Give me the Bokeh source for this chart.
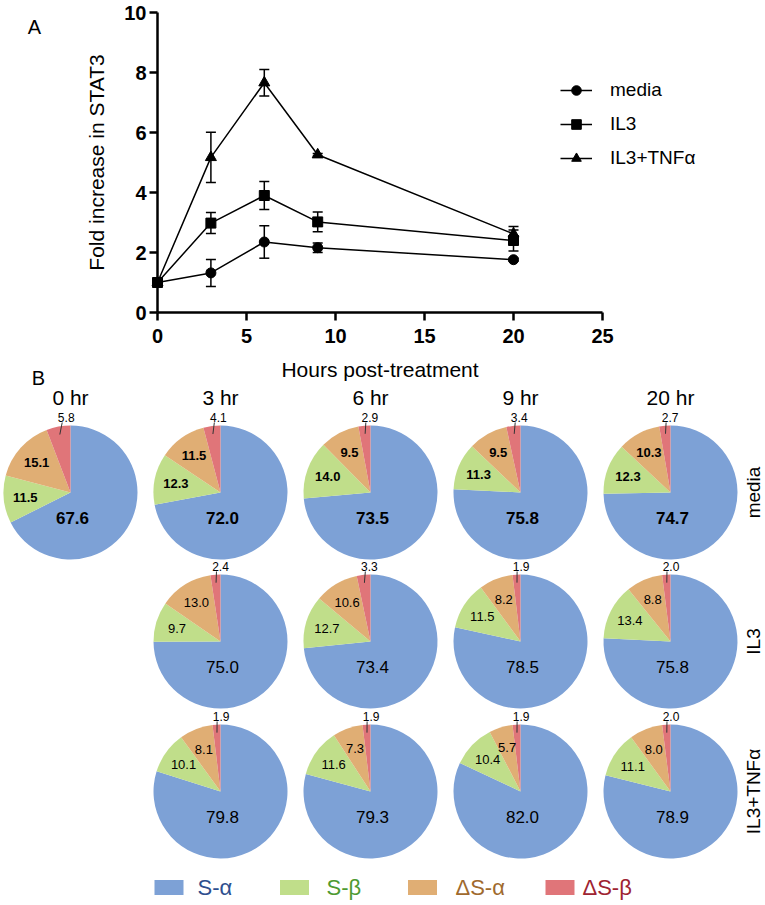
import numpy as np
from bokeh.plotting import figure
from bokeh.models import (Range1d, Legend, LegendItem, Whisker, ColumnDataSource,
                          TeeHead, FixedTicker, LinearAxis)
from bokeh.embed import file_html
from bokeh.resources import INLINE
from bokeh.core.properties import value

# ---------------- data: panel A ----------------
hours = [0, 3, 6, 9, 20]
media_mean = [1.0, 1.32, 2.35, 2.16, 1.76]
media_err = [0.0, 0.45, 0.54, 0.16, 0.05]
il3_mean = [1.0, 2.98, 3.90, 3.02, 2.40]
il3_err = [0.0, 0.35, 0.47, 0.33, 0.35]
tnf_mean = [1.0, 5.17, 7.66, 5.26, 2.62]
tnf_err = [0.0, 0.84, 0.44, 0.04, 0.25]
x_ticks = [0, 5, 10, 15, 20, 25]
y_ticks = [0, 2, 4, 6, 8, 10]
series_names = ["media", "IL3", "IL3+TNFα"]

# ---------------- data: panel B ----------------
pie_times = ["0 hr", "3 hr", "6 hr", "9 hr", "20 hr"]
pie_rows = ["media", "IL3", "IL3+TNFα"]
isoforms = ["S-α", "S-β", "ΔS-α", "ΔS-β"]
media_pct = [[67.6, 11.5, 15.1, 5.8], [72.0, 12.3, 11.5, 4.1], [73.5, 14.0, 9.5, 2.9],
             [75.8, 11.3, 9.5, 3.4], [74.7, 12.3, 10.3, 2.7]]
il3_pct = [None, [75.0, 9.7, 13.0, 2.4], [73.4, 12.7, 10.6, 3.3],
           [78.5, 11.5, 8.2, 1.9], [75.8, 13.4, 8.8, 2.0]]
tnf_pct = [None, [79.8, 10.1, 8.1, 1.9], [79.3, 11.6, 7.3, 1.9],
           [82.0, 10.4, 5.7, 1.9], [78.9, 11.1, 8.0, 2.0]]

slice_colors = ["#7DA1D6", "#C0DE8A", "#E0AE74", "#E07579"]
legend_text_colors = ["#2E4F8E", "#4E9A31", "#A06A2E", "#9E2331"]

FONT = "Liberation Sans"
W, H = 765, 900


def fx(px):  # page x -> canvas units
    return px


def fy(py):  # page y -> canvas units (y up)
    return H - py


# placement of panel A's plotting area on the canvas
AX_L, AX_R = fx(157), fx(602)     # hours 0 .. 25
AX_B, AX_T = fy(312), fy(12)      # fold 0 .. 10
hx = (AX_R - AX_L) / 25.0
hy = (AX_T - AX_B) / 10.0

p = figure(width=W, height=H, x_range=Range1d(0, W), y_range=Range1d(0, H),
           output_backend="svg", toolbar_location=None, min_border=0,
           x_axis_type=None, y_axis_type=None)
p.grid.visible = False
p.outline_line_color = None
p.extra_x_ranges = {"hours": Range1d(-AX_L / hx, (W - AX_L) / hx)}
p.extra_y_ranges = {"fold": Range1d(-AX_B / hy, (H - AX_B) / hy)}

# ================= Panel A =================
xaxis = LinearAxis(x_range_name="hours", y_range_name="fold", fixed_location=0,
                   bounds=(0, 25), ticker=FixedTicker(ticks=x_ticks, minor_ticks=[]),
                   axis_label="Hours post-treatment")
yaxis = LinearAxis(x_range_name="hours", y_range_name="fold", fixed_location=0,
                   bounds=(0, 10), ticker=FixedTicker(ticks=y_ticks, minor_ticks=[]),
                   axis_label="Fold increase in STAT3")
for ax in (xaxis, yaxis):
    ax.axis_line_width = 2.5
    ax.major_tick_line_width = 2.5
    ax.major_tick_out = 8
    ax.major_tick_in = 0
    ax.minor_tick_line_color = None
    ax.major_label_text_font = FONT
    ax.major_label_text_font_size = "20px"
    ax.major_label_text_font_style = "bold"
    ax.major_label_text_color = "black"
    ax.axis_label_text_font = FONT
    ax.axis_label_text_font_size = "21px"
    ax.axis_label_text_font_style = "normal"
    ax.axis_label_text_color = "black"
xaxis.major_label_standoff = 8
yaxis.major_label_standoff = 3
xaxis.axis_label_standoff = 12
yaxis.axis_label_standoff = 13
p.add_layout(xaxis, "below")
p.add_layout(yaxis, "left")

markers = ["circle", "square", "triangle"]
msizes = [10, 10, 11]
items = []
for name, mean, err, mk, ms in zip(series_names, [media_mean, il3_mean, tnf_mean],
                                   [media_err, il3_err, tnf_err], markers, msizes):
    src = ColumnDataSource(dict(x=hours, y=mean,
                                upper=[m + e for m, e in zip(mean, err)],
                                lower=[m - e for m, e in zip(mean, err)]))
    wh = Whisker(source=src, base="x", upper="upper", lower="lower",
                 x_range_name="hours", y_range_name="fold",
                 line_color="black", line_width=1.5,
                 upper_head=TeeHead(size=10, line_width=1.5, line_color="black"),
                 lower_head=TeeHead(size=10, line_width=1.5, line_color="black"))
    p.add_layout(wh)
    lr = p.line("x", "y", source=src, line_color="black", line_width=1.5,
                x_range_name="hours", y_range_name="fold")
    sr = p.scatter("x", "y", source=src, marker=mk, size=ms, fill_color="black",
                   line_color="black", x_range_name="hours", y_range_name="fold")
    items.append(LegendItem(label=name, renderers=[lr, sr]))

legend = Legend(items=items, location=(fx(560), fy(170)), orientation="vertical",
                glyph_width=32, glyph_height=24, label_height=20, label_standoff=18,
                spacing=10, padding=0, margin=0, border_line_color=None,
                background_fill_alpha=0, label_text_font=FONT,
                label_text_font_size="19px", label_text_color="black")
p.add_layout(legend)

# panel letters
p.text(x=[fx(34), fx(38)], y=[fy(26), fy(377)], text=["A", "B"],
       text_font=value(FONT), text_font_size=value("20px"), text_align="center",
       text_baseline="middle", text_color="black")

# ================= Panel B =================
col_cx = [fx(70), fx(220), fx(370), fx(520), fx(670)]
row_cy = [fy(492), fy(641), fy(791)]
R = 67

wx, wy, ws, we, wc = [], [], [], [], []
inner = {True: dict(x=[], y=[], t=[]), False: dict(x=[], y=[], t=[])}
main = {True: dict(x=[], y=[], t=[]), False: dict(x=[], y=[], t=[])}
outer = dict(x=[], y=[], t=[])
lead = dict(x0=[], y0=[], x1=[], y1=[])

for ri, rowdata in enumerate([media_pct, il3_pct, tnf_pct]):
    bold = (ri == 0)
    for ci, pct in enumerate(rowdata):
        if pct is None:
            continue
        cx, cy = col_cx[ci], row_cy[ri]
        tot = sum(pct)
        cum = 0.0
        for k, v in enumerate(pct):
            f0 = cum / tot
            f1 = (cum + v) / tot
            cum += v
            wx.append(cx); wy.append(cy)
            ws.append(np.pi / 2 - 2 * np.pi * f1)
            we.append(np.pi / 2 - 2 * np.pi * f0)
            wc.append(slice_colors[k])
            mid = np.pi / 2 - 2 * np.pi * (f0 + f1) / 2
            txt = f"{v:.1f}"
            if k == 0:
                main[bold]["x"].append(cx + 2); main[bold]["y"].append(cy - 25)
                main[bold]["t"].append(txt)
            elif k in (1, 2):
                inner[bold]["x"].append(cx + 0.68 * R * np.cos(mid))
                inner[bold]["y"].append(cy + 0.68 * R * np.sin(mid))
                inner[bold]["t"].append(txt)
            else:
                lx = cx + 0.6 * R * np.cos(mid) + 3
                outer["x"].append(lx); outer["y"].append(cy + R + 8)
                outer["t"].append(txt)
                lead["x0"].append(cx + 0.88 * R * np.cos(mid))
                lead["y0"].append(cy + 0.88 * R * np.sin(mid))
                lead["x1"].append(lx - 4); lead["y1"].append(cy + R + 3)

p.wedge(x=wx, y=wy, radius=R, start_angle=ws, end_angle=we, direction="anticlock",
        fill_color=wc, line_color=None)
p.segment(x0="x0", y0="y0", x1="x1", y1="y1", source=ColumnDataSource(lead),
          line_color="#333333", line_width=1)


def add_text(d, size, style):
    if not d["t"]:
        return
    p.text(x="x", y="y", text="t", source=ColumnDataSource(d),
           text_font=value(FONT), text_font_size=value(size),
           text_font_style=value(style), text_align="center",
           text_baseline="middle", text_color="black")


for b in (True, False):
    add_text(main[b], "17px", "bold" if b else "normal")
    add_text(inner[b], "13px", "bold" if b else "normal")
add_text(outer, "12px", "normal")

# column titles
p.text(x=col_cx, y=[fy(397)] * len(col_cx), text=pie_times,
       text_font=value(FONT), text_font_size=value("21px"), text_align="center",
       text_baseline="middle", text_color="black")
# row labels
p.text(x=[fx(753)] * 3, y=row_cy, text=pie_rows, angle=np.pi / 2,
       text_font=value(FONT), text_font_size=value("19px"), text_align="center",
       text_baseline="middle", text_color="black")

# legend of isoforms
leg_box_x = [fx(168.5), fx(294), fx(422), fx(559.5)]
leg_text_x = [fx(197), fx(326), fx(455), fx(582)]
leg_y = fy(887)
p.rect(x=leg_box_x, y=[leg_y] * 4, width=29, height=15, fill_color=slice_colors,
       line_color=None)
p.text(x=leg_text_x, y=[leg_y] * 4, text=isoforms, text_color=legend_text_colors,
       text_font=value(FONT), text_font_size=value("22px"), text_align="left",
       text_baseline="middle")

open("out.html", "w").write(file_html(p, INLINE))
